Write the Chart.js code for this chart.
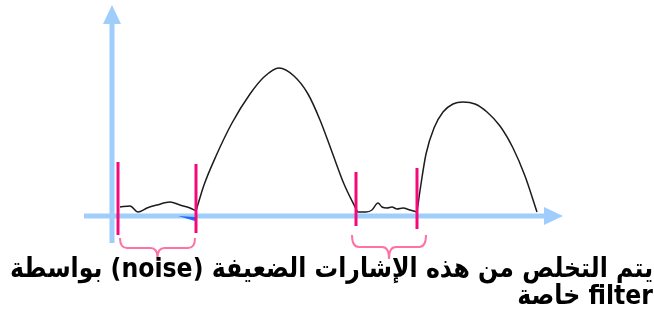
<!DOCTYPE html>
<html>
<head>
<meta charset="utf-8">
<script src="https://cdn.jsdelivr.net/npm/chart.js@4"></script>
<style>
  body { margin: 0; background: #fff; }
  canvas { display: block; }
</style>
</head>
<body>
<canvas id="signalChart" width="654" height="312"></canvas>
<script>
// signal (x = time, y = amplitude)
const noise1 = [[8, 9], [18, 10], [26, 4], [35, 8], [45, 11], [58, 14], [68, 11], [78, 8], [84, 5]];
const hump1 = [[84, 5], [92, 31], [104, 60], [120, 93], [138, 122], [152, 139], [167, 148], [182, 140], [196, 122], [208, 96], [220, 64], [232, 32], [244, 7]];
const noise2 = [[244, 7], [246, 4], [254, 4], [260, 6], [266, 13], [270, 9], [275, 8], [280, 9], [285, 7], [291, 8], [298, 6], [305, 4]];
const hump2 = [[305, 4], [309, 32], [314, 62], [322, 88], [331, 104], [341, 112], [351, 114], [363, 112], [375, 104], [388, 90], [401, 68], [413, 40], [425, 4]];

// filter cut markers: x, top, bottom
const cutX = [6, 84, 244, 305];
const cutTop = [54, 52, 44, 48];
const cutBottom = [-19, -17, -10, -13];

// braces under the noise zones: left, right, top, flat, tip
const braceLeft = [8, 240];
const braceRight = [83, 314];
const braceTop = [-22, -19];
const braceFlat = [-32, -31];
const braceTip = [-42, -43];

const captionLines = [
    'يتم التخلص من هذه الإشارات الضعيفة (noise) بواسطة',
    'filter خاصة'
];

const toPts = arr => arr.map(p => ({ x: p[0], y: p[1] }));

const datasets = [];
[noise1, hump1, noise2, hump2].forEach((part, i) => {
    datasets.push({
        label: 'signal' + i,
        data: toPts(part),
        borderColor: '#1c1c1c',
        borderWidth: 1.5,
        pointRadius: 0,
        cubicInterpolationMode: 'monotone',
        order: 2
    });
});
cutX.forEach((x, i) => {
    datasets.push({
        label: 'cut' + i,
        data: [{ x: x, y: cutBottom[i] }, { x: x, y: cutTop[i] }],
        borderColor: '#f5087a',
        borderWidth: 3,
        pointRadius: 0,
        order: 1
    });
});

// axes with arrows + small blue mark
const axesPlugin = {
    id: 'axes',
    beforeDatasetsDraw(chart) {
        const ctx = chart.ctx, sx = chart.scales.x, sy = chart.scales.y;
        const x0 = sx.getPixelForValue(0), y0 = sy.getPixelForValue(0);
        ctx.save();
        ctx.strokeStyle = '#9fcdfc';
        ctx.fillStyle = '#9fcdfc';
        ctx.lineWidth = 5;
        // vertical
        const yTop = sy.getPixelForValue(211), yBot = sy.getPixelForValue(-27);
        ctx.beginPath();
        ctx.moveTo(x0, yBot);
        ctx.lineTo(x0, yTop + 14);
        ctx.stroke();
        ctx.beginPath();
        ctx.moveTo(x0, yTop);
        ctx.lineTo(x0 - 9, yTop + 19);
        ctx.lineTo(x0 + 9, yTop + 19);
        ctx.closePath();
        ctx.fill();
        // horizontal
        const xL = sx.getPixelForValue(-28), xR = sx.getPixelForValue(451);
        ctx.beginPath();
        ctx.moveTo(xL, y0);
        ctx.lineTo(xR - 14, y0);
        ctx.stroke();
        ctx.beginPath();
        ctx.moveTo(xR, y0);
        ctx.lineTo(xR - 19, y0 - 9);
        ctx.lineTo(xR - 19, y0 + 9);
        ctx.closePath();
        ctx.fill();
        // little dark blue wedge
        ctx.fillStyle = '#1f6cf5';
        ctx.beginPath();
        ctx.moveTo(sx.getPixelForValue(66), sy.getPixelForValue(0));
        ctx.lineTo(sx.getPixelForValue(83), sy.getPixelForValue(-1));
        ctx.lineTo(sx.getPixelForValue(83), sy.getPixelForValue(-5));
        ctx.closePath();
        ctx.fill();
        ctx.restore();
    }
};

const bracePlugin = {
    id: 'braces',
    afterDatasetsDraw(chart) {
        const ctx = chart.ctx, sx = chart.scales.x, sy = chart.scales.y;
        ctx.save();
        ctx.strokeStyle = '#ff72a6';
        ctx.lineWidth = 2;
        braceLeft.forEach((l, i) => {
            const x0 = sx.getPixelForValue(l), x1 = sx.getPixelForValue(braceRight[i]);
            const top = sy.getPixelForValue(braceTop[i]);
            const h = sy.getPixelForValue(braceFlat[i]);
            const tip = sy.getPixelForValue(braceTip[i]);
            const mid = (x0 + x1) / 2, r = 7;
            ctx.beginPath();
            ctx.moveTo(x0, top);
            ctx.quadraticCurveTo(x0, h, x0 + r, h);
            ctx.lineTo(mid - r, h);
            ctx.quadraticCurveTo(mid, h, mid, tip);
            ctx.quadraticCurveTo(mid, h, mid + r, h);
            ctx.lineTo(x1 - r, h);
            ctx.quadraticCurveTo(x1, h, x1, top);
            ctx.stroke();
        });
        ctx.restore();
    }
};

const captionPlugin = {
    id: 'caption',
    afterDraw(chart) {
        const ctx = chart.ctx;
        ctx.save();
        ctx.direction = 'rtl';
        ctx.textAlign = 'right';
        ctx.textBaseline = 'alphabetic';
        ctx.fillStyle = '#000';
        let size = 20;
        ctx.font = 'bold ' + size + 'px "DejaVu Sans"';
        const w = ctx.measureText(captionLines[0]).width;
        size = size * 643 / w;
        ctx.font = 'bold ' + size.toFixed(2) + 'px "DejaVu Sans"';
        [277, 304].forEach((base, i) => {
            ctx.save();
            ctx.translate(653, base);
            ctx.scale(1, 1.15);
            ctx.fillText(captionLines[i], 0, 0);
            ctx.restore();
        });
        ctx.restore();
    }
};

new Chart(document.getElementById('signalChart').getContext('2d'), {
    type: 'line',
    data: { datasets: datasets },
    options: {
        responsive: false,
        animation: false,
        layout: { padding: 0 },
        plugins: {
            legend: { display: false },
            tooltip: { enabled: false }
        },
        scales: {
            x: { type: 'linear', min: -112, max: 542, display: false },
            y: { type: 'linear', min: -96, max: 216, display: false }
        }
    },
    plugins: [axesPlugin, bracePlugin, captionPlugin]
});
</script>
</body>
</html>
